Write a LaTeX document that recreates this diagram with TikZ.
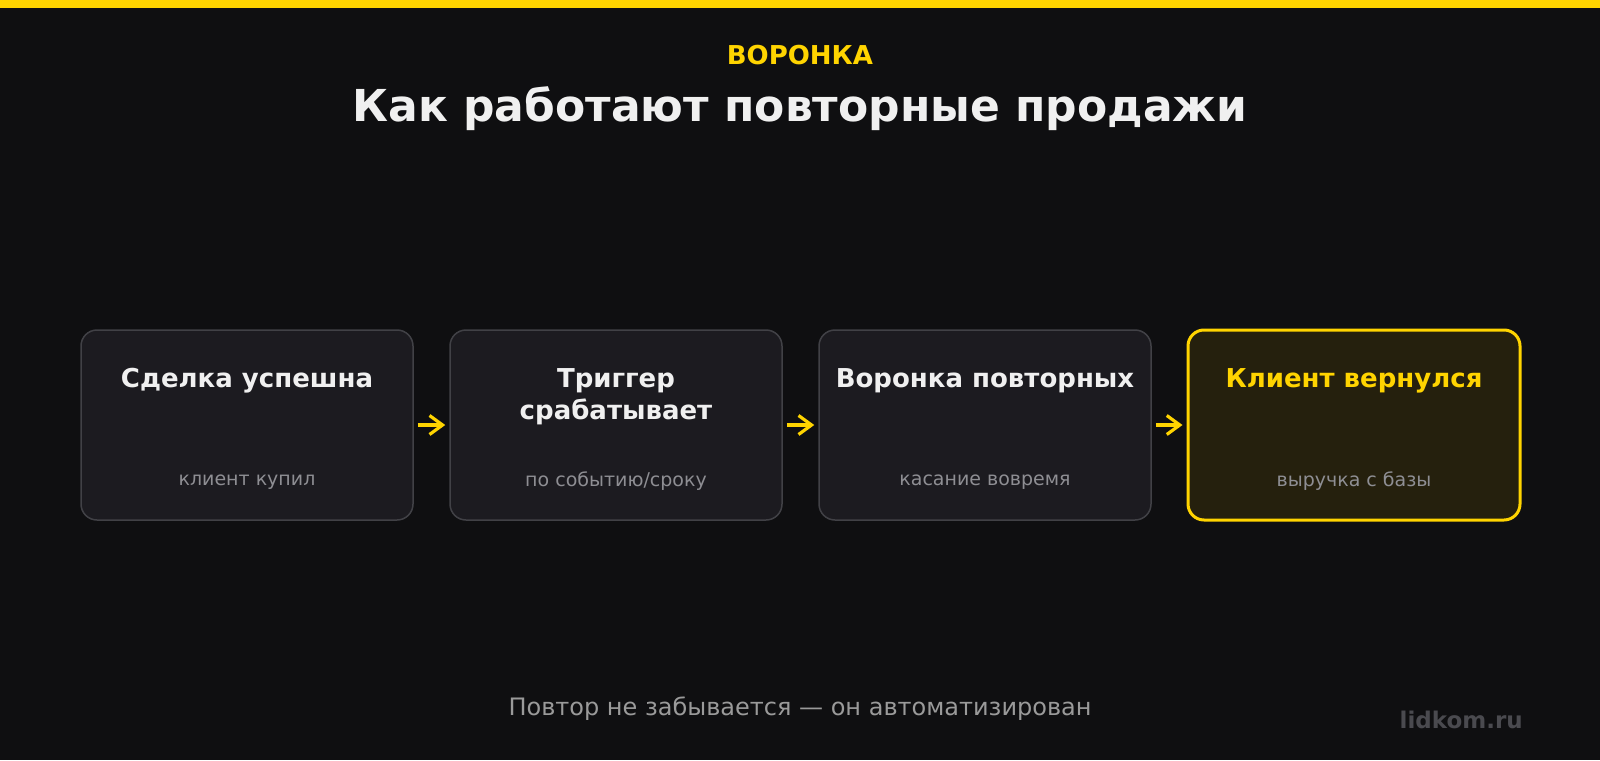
\documentclass[tikz,border=0pt]{standalone}
\usepackage{fontspec}
\setmainfont{DejaVu Sans}
\usetikzlibrary{arrows.meta}
\definecolor{bg}{HTML}{0F0F11}
\definecolor{gold}{HTML}{FFD400}
\definecolor{titlewhite}{HTML}{F0F0F0}
\definecolor{boxfill}{HTML}{1C1B20}
\definecolor{boxline}{HTML}{414146}
\definecolor{hotfill}{HTML}{25200D}
\definecolor{subgray}{HTML}{8E8E93}
\definecolor{footgray}{HTML}{9A9A9A}
\definecolor{markgray}{HTML}{4A4A4F}
\tikzset{
  stepbox/.style={draw=boxline, line width=1.5pt, fill=boxfill, rounded corners=16pt,
    minimum width=332pt, minimum height=190pt, inner sep=0pt},
  hotbox/.style={stepbox, draw=gold, line width=3pt, fill=hotfill},
  btitle/.style={anchor=base, text=titlewhite, font=\bfseries\fontsize{26}{31}\selectfont, inner sep=0pt},
  bsub/.style={anchor=base, text=subgray, font=\fontsize{19}{23}\selectfont, inner sep=0pt},
  flow/.style={draw=gold, line width=3.5pt, shorten <=4pt, shorten >=4pt,
    -{Straight Barb[length=13pt, width=19pt, line width=3.2pt]}}
}
\begin{document}
\begin{tikzpicture}[x=1pt,y=-1pt]
\useasboundingbox (0,0) rectangle (1600,760);
\fill[bg] (0,0) rectangle (1600,760);
\fill[gold] (0,0) rectangle (1600,8.5);

\node[anchor=base, text=gold, font=\bfseries\fontsize{26}{31}\selectfont, inner sep=0pt] (kicker) at (800,65) {ВОРОНКА};
\node[anchor=base, text=titlewhite, font=\bfseries\fontsize{44}{52}\selectfont, inner sep=0pt] (title) at (800,121.5) {Как работают повторные продажи};

\node[stepbox] (b1) at (247,425) {};
\node[stepbox] (b2) at (616,425) {};
\node[stepbox] (b3) at (985,425) {};
\node[hotbox] (b4) at (1354,425) {};

\node[btitle] (t1) at (247,387.5) {Сделка успешна};
\node[btitle] (t2a) at (616,387.5) {Триггер};
\node[btitle] (t2b) at (616,419) {срабатывает};
\node[btitle] (t3) at (985,387.5) {Воронка повторных};
\node[btitle, text=gold] (t4) at (1354,387.5) {Клиент вернулся};

\node[bsub] (s1) at (247,485.5) {клиент купил};
\node[bsub] (s2) at (616,486.5) {по событию/сроку};
\node[bsub] (s3) at (985,485.5) {касание вовремя};
\node[bsub] (s4) at (1354,486.5) {выручка с базы};

\draw[flow] (b1.east) -- (b2.west);
\draw[flow] (b2.east) -- (b3.west);
\draw[flow] (b3.east) -- (b4.west);

\node[anchor=base, text=footgray, font=\fontsize{24}{29}\selectfont, inner sep=0pt] (foot) at (800,715) {Повтор не забывается — он автоматизирован};
\node[anchor=base east, text=markgray, font=\bfseries\fontsize{23}{28}\selectfont, inner sep=0pt] (mark) at (1523,728.5) {lidkom.ru};
\end{tikzpicture}
\end{document}
